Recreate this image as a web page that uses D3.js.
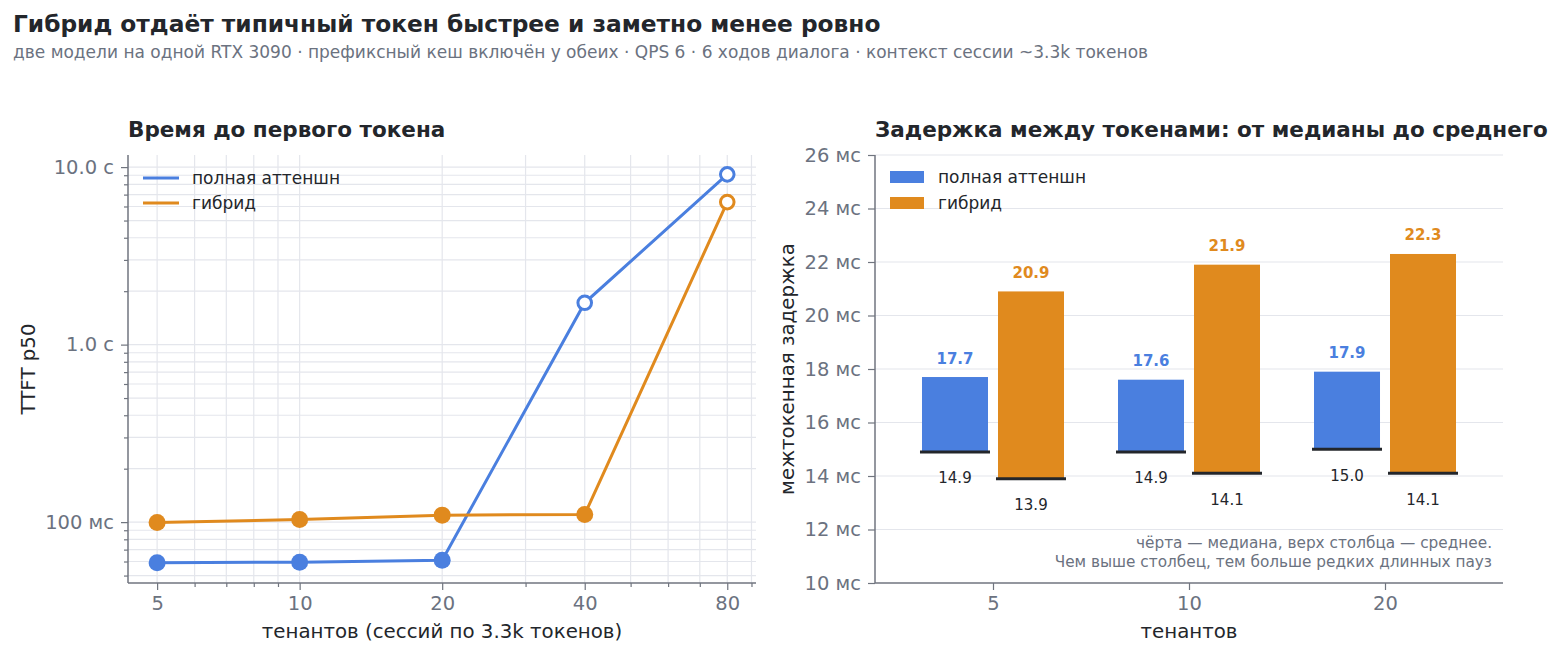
<!DOCTYPE html>
<html><head><meta charset="utf-8">
<script src="https://cdn.jsdelivr.net/npm/d3@7/dist/d3.min.js"></script>
<style>
html,body{margin:0;padding:0;background:#fff;}
svg{display:block;font-family:"DejaVu Sans",sans-serif;}
</style></head>
<body>
<svg id="chart" width="1560" height="654"></svg>
<script>
// ---- data ----
const seriesNames = ["полная аттеншн", "гибрид"];
const tenantsTTFT = [5, 10, 20, 40, 80];
const ttftFull   = [0.059, 0.0595, 0.061, 1.72, 9.1];     // seconds
const ttftHybrid = [0.0996, 0.1035, 0.1095, 0.1105, 6.35]; // seconds
const overloadFull   = [false, false, false, true, true];
const overloadHybrid = [false, false, false, false, true];
const ttftTicks = [0.1, 1, 10];

const tenantsITL = ["5", "10", "20"];
const itlMeanFull     = [17.7, 17.6, 17.9];
const itlMedianFull   = [14.9, 14.9, 15.0];
const itlMeanHybrid   = [20.9, 21.9, 22.3];
const itlMedianHybrid = [13.9, 14.1, 14.1];
const itlTicks = [10, 12, 14, 16, 18, 20, 22, 24, 26];

const colors = ["#4a7fdf", "#e08a1e"];
const dark = "#23262b", gray = "#6b7280", grid = "#e4e6ec", axisC = "#70757f";
const tickFS = 19.5;

const svg = d3.select("#chart");

// titles
svg.append("text").attr("x", 13).attr("y", 32).attr("font-size", 23.3).attr("font-weight", "bold")
  .attr("fill", dark).text("Гибрид отдаёт типичный токен быстрее и заметно менее ровно");
svg.append("text").attr("x", 13).attr("y", 58).attr("font-size", 17).attr("fill", gray)
  .text("две модели на одной RTX 3090 · префиксный кеш включён у обеих · QPS 6 · 6 ходов диалога · контекст сессии ~3.3k токенов");

// ===== Left chart =====
const L = {x0: 128, x1: 756, y0: 155, y1: 583};
const xL = d3.scaleLog().domain([4.34, 92]).range([L.x0, L.x1]);
const yL = d3.scaleLog().domain([0.0454, 11.7]).range([L.y1, L.y0]);
const gL = svg.append("g");

const xMinor = [6,7,8,9,30,50,60,70,90];
const yMinor = [];
[0.01, 0.1, 1].forEach(d => { for (let k = 2; k <= 9; k++) { const v = d * k; if (v >= 0.0454 && v <= 11.7) yMinor.push(v); } });
const yAllL = Array.from(new Set(yMinor.concat(ttftTicks).map(v => +v.toPrecision(3))));
const xAllL = tenantsTTFT.concat(xMinor);

gL.selectAll(".vg").data(xAllL).join("line")
  .attr("x1", d => xL(d)).attr("x2", d => xL(d)).attr("y1", L.y0).attr("y2", L.y1)
  .attr("stroke", grid).attr("stroke-width", 1.2);
gL.selectAll(".hg").data(yAllL).join("line")
  .attr("x1", L.x0).attr("x2", L.x1).attr("y1", d => yL(d)).attr("y2", d => yL(d))
  .attr("stroke", grid).attr("stroke-width", 1.2);

// axes
const fmtT = v => v >= 1 ? v.toFixed(1) + " с" : Math.round(v * 1000) + " мс";
const axL = gL.append("g").attr("transform", `translate(${L.x0},0)`)
  .call(d3.axisLeft(yL).tickValues(ttftTicks).tickFormat(fmtT).tickSize(7).tickPadding(7));
const axLm = gL.append("g").attr("transform", `translate(${L.x0},0)`)
  .call(d3.axisLeft(yL).tickValues(yAllL.filter(v => !ttftTicks.includes(v))).tickFormat("").tickSize(4));
const axB = gL.append("g").attr("transform", `translate(0,${L.y1})`)
  .call(d3.axisBottom(xL).tickValues(tenantsTTFT).tickFormat(d3.format("d")).tickSize(7).tickPadding(6));
const axBm = gL.append("g").attr("transform", `translate(0,${L.y1})`)
  .call(d3.axisBottom(xL).tickValues(xMinor).tickFormat("").tickSize(4));
[axL, axLm, axB, axBm].forEach(a => {
  a.select(".domain").remove();
  a.selectAll(".tick line").attr("stroke", axisC).attr("stroke-width", 1.2);
  a.selectAll(".tick text").attr("fill", gray).attr("font-size", tickFS).attr("font-family", "DejaVu Sans");
});
gL.append("line").attr("x1", L.x0).attr("x2", L.x0).attr("y1", L.y0).attr("y2", L.y1).attr("stroke", axisC).attr("stroke-width", 1.5);
gL.append("line").attr("x1", L.x0).attr("x2", L.x1).attr("y1", L.y1).attr("y2", L.y1).attr("stroke", axisC).attr("stroke-width", 1.5);

// lines + markers
const seriesL = [ttftFull, ttftHybrid];
const overloads = [overloadFull, overloadHybrid];
const line = d3.line().x(d => xL(d[0])).y(d => yL(d[1]));
seriesL.forEach((s, i) => {
  const pts = tenantsTTFT.map((t, j) => [t, s[j], overloads[i][j]]);
  gL.append("path").attr("d", line(pts)).attr("fill", "none").attr("stroke", colors[i]).attr("stroke-width", 3);
  gL.selectAll(null).data(pts).join("circle")
    .attr("cx", d => xL(d[0])).attr("cy", d => yL(d[1]))
    .attr("r", d => d[2] ? 6.8 : 8.5)
    .attr("fill", d => d[2] ? "#fff" : colors[i])
    .attr("stroke", colors[i]).attr("stroke-width", d => d[2] ? 3 : 0);
});

// legend
seriesNames.forEach((n, i) => {
  const y = 178 + i * 25;
  gL.append("line").attr("x1", 143).attr("x2", 179).attr("y1", y).attr("y2", y).attr("stroke", colors[i]).attr("stroke-width", 3);
  gL.append("text").attr("x", 192).attr("y", y + 6).attr("font-size", 17).attr("fill", dark).text(n);
});

gL.append("text").attr("x", L.x0).attr("y", 137).attr("font-size", 21.5).attr("font-weight", "bold").attr("fill", dark)
  .text("Время до первого токена");
gL.append("text").attr("x", 442).attr("y", 638).attr("text-anchor", "middle").attr("font-size", 19.8).attr("fill", dark)
  .text("тенантов (сессий по 3.3k токенов)");
gL.append("text").attr("transform", `translate(35,369) rotate(-90)`).attr("text-anchor", "middle")
  .attr("font-size", 19.8).attr("fill", dark).text("TTFT p50");

// ===== Right chart =====
const R = {x0: 875, x1: 1503, y0: 155, y1: 583};
const xR = d3.scalePoint().domain(tenantsITL).range([R.x0, R.x1]).padding(0.602);
const yR = d3.scaleLinear().domain([10, 26]).range([R.y1, R.y0]);
const gR = svg.append("g");

gR.selectAll(".hg").data(itlTicks.slice(1)).join("line")
  .attr("x1", R.x0).attr("x2", R.x1).attr("y1", d => yR(d)).attr("y2", d => yR(d))
  .attr("stroke", grid).attr("stroke-width", 1.2);

const axR = gR.append("g").attr("transform", `translate(${R.x0},0)`)
  .call(d3.axisLeft(yR).tickValues(itlTicks).tickFormat(d => d + " мс").tickSize(7).tickPadding(7));
const axRB = gR.append("g").attr("transform", `translate(0,${R.y1})`)
  .call(d3.axisBottom(xR).tickSize(7).tickPadding(6));
[axR, axRB].forEach(a => {
  a.select(".domain").remove();
  a.selectAll(".tick line").attr("stroke", axisC).attr("stroke-width", 1.2);
  a.selectAll(".tick text").attr("fill", gray).attr("font-size", tickFS).attr("font-family", "DejaVu Sans");
});
gR.append("line").attr("x1", R.x0).attr("x2", R.x0).attr("y1", R.y0).attr("y2", R.y1).attr("stroke", axisC).attr("stroke-width", 1.5);
gR.append("line").attr("x1", R.x0).attr("x2", R.x1).attr("y1", R.y1).attr("y2", R.y1).attr("stroke", axisC).attr("stroke-width", 1.5);

const barW = 66, off = 38;
const means = [itlMeanFull, itlMeanHybrid], meds = [itlMedianFull, itlMedianHybrid];
[0, 1].forEach(i => {
  const dx = i === 0 ? -off : off;
  const data = tenantsITL.map((t, j) => ({t, mean: means[i][j], med: meds[i][j]}));
  gR.selectAll(null).data(data).join("rect")
    .attr("x", d => xR(d.t) + dx - barW / 2).attr("width", barW)
    .attr("y", d => yR(d.mean)).attr("height", d => yR(d.med) - yR(d.mean))
    .attr("fill", colors[i]);
  gR.selectAll(null).data(data).join("line")
    .attr("x1", d => xR(d.t) + dx - barW / 2 - 2).attr("x2", d => xR(d.t) + dx + barW / 2 + 2)
    .attr("y1", d => yR(d.med)).attr("y2", d => yR(d.med))
    .attr("stroke", "#23262b").attr("stroke-width", 3);
  gR.selectAll(null).data(data).join("text")
    .attr("x", d => xR(d.t) + dx).attr("y", d => yR(d.mean) - 13.5)
    .attr("text-anchor", "middle").attr("font-size", 15).attr("font-weight", "bold").attr("fill", colors[i])
    .text(d => d.mean.toFixed(1));
  gR.selectAll(null).data(data).join("text")
    .attr("x", d => xR(d.t) + dx).attr("y", d => yR(d.med) + 31.5)
    .attr("text-anchor", "middle").attr("font-size", 15).attr("fill", dark)
    .text(d => d.med.toFixed(1));
});

// legend
seriesNames.forEach((n, i) => {
  const y = 171 + i * 26;
  gR.append("rect").attr("x", 890).attr("y", y).attr("width", 34).attr("height", 12).attr("fill", colors[i]);
  gR.append("text").attr("x", 938).attr("y", y + 12).attr("font-size", 17).attr("fill", dark).text(n);
});

gR.append("text").attr("x", 1492).attr("y", 548).attr("text-anchor", "end").attr("font-size", 15.3).attr("fill", gray)
  .text("чёрта — медиана, верх столбца — среднее.");
gR.append("text").attr("x", 1492).attr("y", 567).attr("text-anchor", "end").attr("font-size", 15.3).attr("fill", gray)
  .text("Чем выше столбец, тем больше редких длинных пауз");

gR.append("text").attr("x", R.x0).attr("y", 137).attr("font-size", 21.5).attr("font-weight", "bold").attr("fill", dark)
  .text("Задержка между токенами: от медианы до среднего");
gR.append("text").attr("x", 1189).attr("y", 638).attr("text-anchor", "middle").attr("font-size", 19.8).attr("fill", dark)
  .text("тенантов");
gR.append("text").attr("transform", `translate(794,369) rotate(-90)`).attr("text-anchor", "middle")
  .attr("font-size", 19.8).attr("fill", dark).text("межтокенная задержка");
</script>
</body></html>
